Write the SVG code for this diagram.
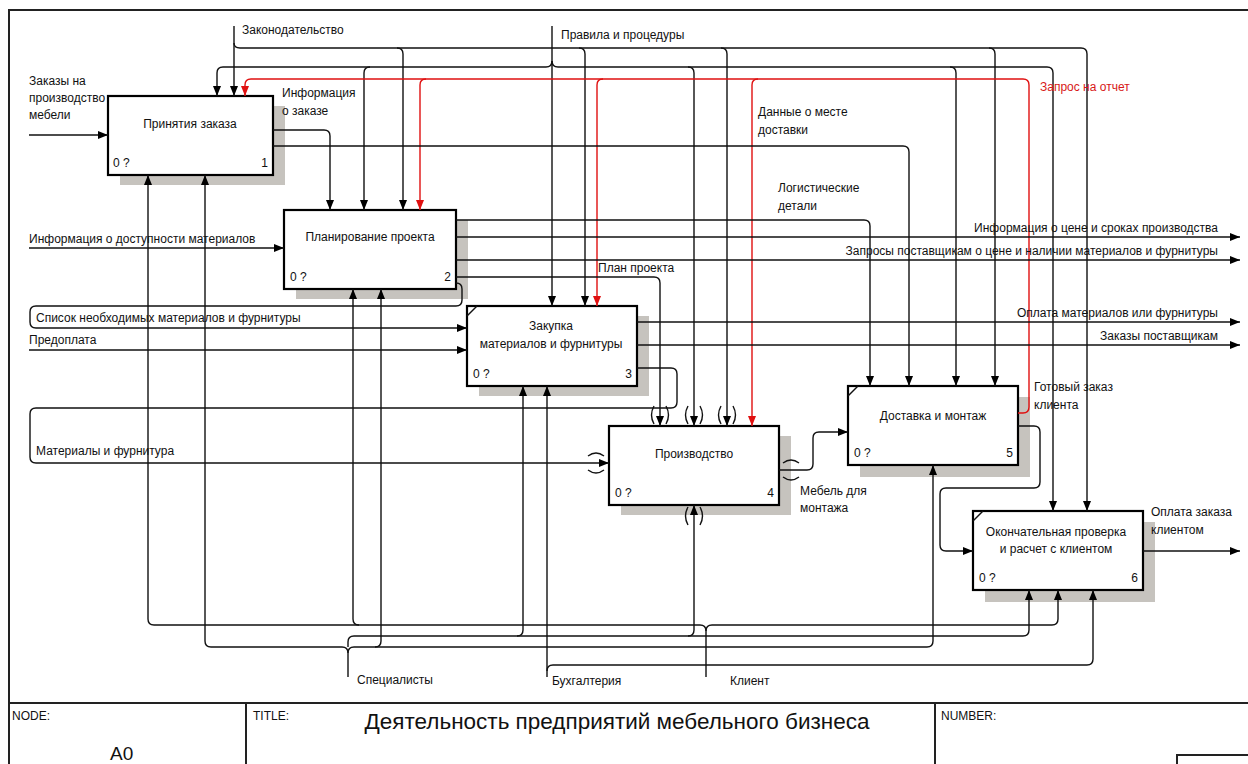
<svg xmlns="http://www.w3.org/2000/svg" width="1248" height="764" viewBox="0 0 1248 764">
<style>
.ln{fill:none;stroke:#111;stroke-width:1.4}
.r{stroke:#e01010}
.box{fill:#fff;stroke:#000;stroke-width:2.2}
.sh{fill:#c6c3be}
.t{font-family:"Liberation Sans",Arial,sans-serif;font-size:12px;fill:#111}
.c{text-anchor:middle}
.e{text-anchor:end}
.rt{fill:#d81818}
.fr{fill:none;stroke:#222;stroke-width:2}
</style>
<defs>
<marker id="a" viewBox="0 0 10 8" refX="10" refY="4" markerWidth="10" markerHeight="8" orient="auto" markerUnits="userSpaceOnUse"><path d="M0,0L10,4L0,8z" fill="#000"/></marker>
<marker id="ar" viewBox="0 0 10 8" refX="10" refY="4" markerWidth="10" markerHeight="8" orient="auto" markerUnits="userSpaceOnUse"><path d="M0,0L10,4L0,8z" fill="#e01010"/></marker>
</defs>
<rect width="1248" height="764" fill="#fff"/>

<g id="frame">
<path class="fr" d="M9,764V10H1248"/>
<path class="fr" d="M9,703H1248M246,703V764M935,703V764" stroke="#555"/>
<path class="fr" d="M1177,764V755H1248" stroke-width="1.2"/>
<text class="t" x="12" y="720">NODE:</text>
<text class="t" x="253" y="720">TITLE:</text>
<text class="t" x="941" y="720">NUMBER:</text>
<text class="t" x="110" y="760" style="font-size:19px">A0</text>
<text class="t" x="617" y="729" text-anchor="middle" style="font-size:22.5px">Деятельность предприятий мебельного бизнеса</text>
</g>

<g id="node1">
<rect class="sh" x="120" y="106" width="165" height="79"/>
<rect class="box" x="108" y="96" width="165" height="79"/>
<text class="t c" x="190" y="128">Принятия заказа</text>
<text class="t" x="113" y="167">0 ?</text>
<text class="t e" x="268" y="167">1</text>
</g>
<g id="node2">
<rect class="sh" x="296" y="220" width="172" height="79"/>
<rect class="box" x="284" y="210" width="172" height="79"/>
<text class="t c" x="370" y="241">Планирование проекта</text>
<text class="t" x="290" y="281">0 ?</text>
<text class="t e" x="451" y="281">2</text>
</g>
<g id="node3">
<rect class="sh" x="479" y="316" width="170" height="80"/>
<rect class="box" x="467" y="306" width="170" height="80"/>
<path d="M467,316L477,306" class="ln"/>
<text class="t c" x="551" y="330">Закупка</text>
<text class="t c" x="551" y="348">материалов и фурнитуры</text>
<text class="t" x="473" y="378">0 ?</text>
<text class="t e" x="632" y="378">3</text>
</g>
<g id="node4">
<rect class="sh" x="621" y="436" width="170" height="79"/>
<rect class="box" x="609" y="426" width="170" height="79"/>
<text class="t c" x="694" y="458">Производство</text>
<text class="t" x="615" y="497">0 ?</text>
<text class="t e" x="774" y="497">4</text>
</g>
<g id="node5">
<rect class="sh" x="860" y="397" width="170" height="80"/>
<rect class="box" x="848" y="386" width="170" height="79"/>
<path d="M848,396L858,386" class="ln"/>
<text class="t c" x="933" y="420">Доставка и монтаж</text>
<text class="t" x="854" y="457">0 ?</text>
<text class="t e" x="1013" y="457">5</text>
</g>
<g id="node6">
<rect class="sh" x="985" y="522" width="170" height="80"/>
<rect class="box" x="973" y="511" width="170" height="79"/>
<path d="M973,521L983,511" class="ln"/>
<text class="t c" x="1056" y="536">Окончательная проверка</text>
<text class="t c" x="1056" y="553">и расчет с клиентом</text>
<text class="t" x="979" y="582">0 ?</text>
<text class="t e" x="1138" y="582">6</text>
</g>

<g id="connectors" class="ln">
<!-- Законодательство -->
<path d="M234,26V96" marker-end="url(#a)"/>
<path d="M234,43Q234,48 240,48H1081Q1087,48 1087,54V511" marker-end="url(#a)"/>
<path d="M397,48Q403,48 403,54V210" marker-end="url(#a)"/>
<path d="M579,48Q585,48 585,54V306" marker-end="url(#a)"/>
<path d="M721,48Q727,48 727,54V426" marker-end="url(#a)"/>
<path d="M989,48Q995,48 995,54V386" marker-end="url(#a)"/>
<!-- Правила и процедуры -->
<path d="M552,26V306" marker-end="url(#a)"/>
<path d="M552,61Q552,67 546,67H223Q217,67 217,73V96" marker-end="url(#a)"/>
<path d="M552,61Q552,67 558,67H1047Q1053,67 1053,73V511" marker-end="url(#a)"/>
<path d="M370,67Q364,67 364,73V210" marker-end="url(#a)"/>
<path d="M688,67Q694,67 694,73V426" marker-end="url(#a)"/>
<path d="M950,67Q956,67 956,73V386" marker-end="url(#a)"/>
<!-- Запрос на отчет -->
<path class="r" d="M1018,413H1023Q1029,413 1029,407V85Q1029,79 1023,79H251Q245,79 245,85V96" marker-end="url(#ar)"/>
<path class="r" d="M426,79Q420,79 420,85V210" marker-end="url(#ar)"/>
<path class="r" d="M603,79Q597,79 597,85V306" marker-end="url(#ar)"/>
<path class="r" d="M758,79Q752,79 752,85V426" marker-end="url(#ar)"/>
<!-- node 1 outputs -->
<path d="M273,130H324Q330,130 330,136V210" marker-end="url(#a)"/>
<path d="M273,146H903Q909,146 909,152V386" marker-end="url(#a)"/>
<!-- node 2 outputs -->
<path d="M456,220H864Q870,220 870,226V386" marker-end="url(#a)"/>
<path d="M456,237H1240" marker-end="url(#a)"/>
<path d="M456,260H1240" marker-end="url(#a)"/>
<path d="M456,277H654Q660,277 660,283V426" marker-end="url(#a)"/>
<path d="M456,283Q462,283 462,289V300Q462,306 456,306H36Q30,306 30,312V322Q30,328 36,328H467" marker-end="url(#a)"/>
<!-- inputs -->
<path d="M29,135H108" marker-end="url(#a)"/>
<path d="M29,248H284" marker-end="url(#a)"/>
<path d="M29,350H467" marker-end="url(#a)"/>
<!-- node 3 outputs -->
<path d="M637,322H1240" marker-end="url(#a)"/>
<path d="M637,345H1240" marker-end="url(#a)"/>
<path d="M637,368H671Q677,368 677,374V402Q677,408 671,408H36Q30,408 30,414V457Q30,463 36,463H609" marker-end="url(#a)"/>
<!-- node 4, 5, 6 outputs -->
<path d="M779,470H807Q813,470 813,464V438Q813,432 819,432H848" marker-end="url(#a)"/>
<path d="M1018,426H1034Q1040,426 1040,432V482Q1040,488 1034,488H946Q940,488 940,494V545Q940,551 946,551H973" marker-end="url(#a)"/>
<path d="M1143,551H1240" marker-end="url(#a)"/>
<!-- Клиент -->
<path d="M706,677V631Q706,625 700,625H154Q148,625 148,619V175" marker-end="url(#a)"/>
<path d="M706,631Q706,625 712,625H1052Q1058,625 1058,619V590" marker-end="url(#a)"/>
<path d="M359,625Q353,625 353,619V289" marker-end="url(#a)"/>
<!-- Специалисты -->
<path d="M348,677V653Q348,647 342,647H211Q205,647 205,641V175" marker-end="url(#a)"/>
<path d="M348,653Q348,647 354,647H927Q933,647 933,641V465" marker-end="url(#a)"/>
<path d="M375,647Q381,647 381,641V289" marker-end="url(#a)"/>
<path d="M348,647V642Q348,636 354,636H1023Q1029,636 1029,630V590" marker-end="url(#a)"/>
<path d="M517,636Q523,636 523,630V386" marker-end="url(#a)"/>
<path d="M688,636Q694,636 694,630V505" marker-end="url(#a)"/>
<!-- Бухгалтерия -->
<path d="M547,677V386" marker-end="url(#a)"/>
<path d="M547,671Q547,665 553,665H1087Q1093,665 1093,659V590" marker-end="url(#a)"/>
<!-- tunnels -->
<path d="M654,406Q649,415 654,424M666,406Q671,415 666,424"/>
<path d="M688,406Q683,415 688,424M700,406Q705,415 700,424"/>
<path d="M721,406Q716,415 721,424M733,406Q738,415 733,424"/>
<path d="M688,507Q683,516 688,525M700,507Q705,516 700,525"/>
<path d="M588,456Q596,450 604,456M588,470Q596,476 604,470"/>
<path d="M783,463Q791,457 799,463M783,477Q791,483 799,477"/>
</g>

<g id="labels" class="t">
<text x="242" y="34">Законодательство</text>
<text x="561" y="39">Правила и процедуры</text>
<text x="29" y="85">Заказы на</text>
<text x="29" y="102">производство</text>
<text x="29" y="119">мебели</text>
<text x="282" y="97">Информация</text>
<text x="282" y="115">о заказе</text>
<text x="1040" y="91" class="rt">Запрос на отчет</text>
<text x="758" y="116">Данные о месте</text>
<text x="758" y="134">доставки</text>
<text x="778" y="192">Логистические</text>
<text x="778" y="210">детали</text>
<text x="1218" y="232" text-anchor="end">Информация о цене и сроках производства</text>
<text x="1218" y="255" text-anchor="end">Запросы поставщикам о цене и наличии материалов и фурнитуры</text>
<text x="29" y="243">Информация о доступности материалов</text>
<text x="598" y="272">План проекта</text>
<text x="36" y="322">Список необходимых материалов и фурнитуры</text>
<text x="29" y="344">Предоплата</text>
<text x="1218" y="317" text-anchor="end">Оплата материалов или фурнитуры</text>
<text x="1218" y="340" text-anchor="end">Заказы поставщикам</text>
<text x="1034" y="391">Готовый заказ</text>
<text x="1034" y="409">клиента</text>
<text x="36" y="455">Материалы и фурнитура</text>
<text x="800" y="495">Мебель для</text>
<text x="800" y="512">монтажа</text>
<text x="1151" y="516">Оплата заказа</text>
<text x="1151" y="534">клиентом</text>
<text x="357" y="684">Специалисты</text>
<text x="552" y="685">Бухгалтерия</text>
<text x="730" y="685">Клиент</text>
</g>
</svg>
